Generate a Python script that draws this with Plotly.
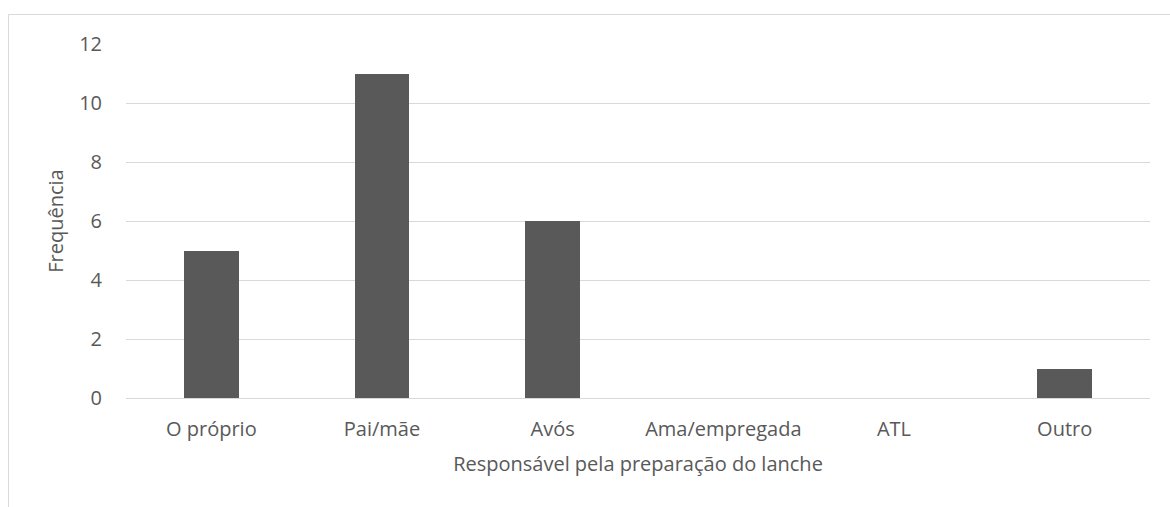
import plotly.graph_objects as go

categories = ["O próprio", "Pai/mãe", "Avós", "Ama/empregada", "ATL", "Outro"]
frequencia = [5, 11, 6, 0, 0, 1]
y_ticks = [0, 2, 4, 6, 8, 10, 12]

TEXT = "#595959"
GRID = "#d9d9d9"
FONT = "Open Sans"
SIZE = 20

fig = go.Figure(
    go.Bar(
        x=categories,
        y=frequencia,
        marker=dict(color="#595959", line=dict(width=0)),
        width=0.32,
    )
)

fig.update_layout(
    width=1170,
    height=507,
    margin=dict(l=126, r=20, t=44, b=109),
    paper_bgcolor="white",
    plot_bgcolor="white",
    font=dict(family=FONT, size=SIZE, color=TEXT),
    showlegend=False,
    bargap=0,
    xaxis=dict(
        showgrid=False,
        showline=False,
        ticks="",
        ticklabelstandoff=17,
        tickfont=dict(size=SIZE, color=TEXT),
        title=dict(text="Responsável pela preparação do lanche",
                   font=dict(size=SIZE, color=TEXT), standoff=15),
    ),
    yaxis=dict(
        range=[0, 12],
        tickvals=y_ticks,
        showgrid=True,
        gridcolor=GRID,
        gridwidth=1,
        zeroline=True,
        zerolinecolor=GRID,
        zerolinewidth=1,
        showline=False,
        ticks="",
        ticklabelstandoff=23,
        tickfont=dict(size=SIZE, color=TEXT),
        title=dict(text="Frequência", font=dict(size=SIZE, color=TEXT), standoff=10),
    ),
    shapes=[
        dict(type="rect", xref="paper", yref="paper",
             x0=-0.1147, x1=1.2, y0=-0.6, y1=1.0833,
             line=dict(color="#d9d9d9", width=1), fillcolor="rgba(0,0,0,0)",
             layer="below"),
    ],
)

fig.write_html("out.html")
